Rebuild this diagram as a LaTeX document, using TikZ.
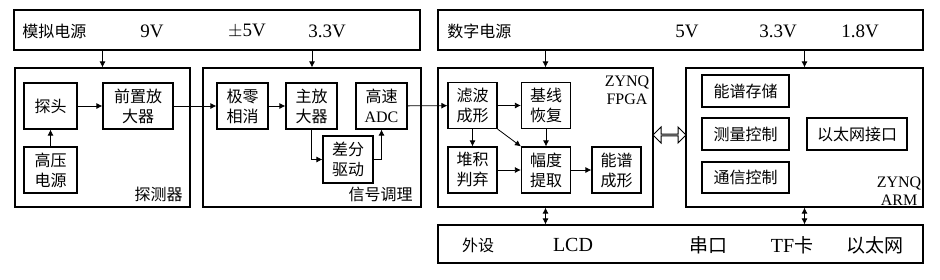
\documentclass[tikz,border=0pt]{standalone}
\usepackage{fontspec}
\setmainfont{Liberation Serif}
\newfontfamily\cjk{Noto Sans CJK SC}
\usetikzlibrary{positioning,arrows.meta,shapes.arrows}
\tikzset{
  blk/.style ={draw, rectangle, align=center, inner sep=0pt, line width=0.6pt, font=\cjk\fontsize{8}{10}\selectfont},
  sq/.style  ={blk, minimum width=24.5pt, minimum height=23pt},
  wd/.style  ={blk, minimum width=43.5pt, minimum height=16pt},
  grp/.style ={draw, rectangle, line width=0.6pt, minimum height=69.5pt},
  pwr/.style ={draw, rectangle, line width=0.6pt, minimum height=20pt},
  txt/.style ={font=\cjk\fontsize{8}{10}\selectfont, inner sep=0pt},
  volt/.style={font=\fontsize{9.5}{11}\selectfont, inner sep=0pt},
  arr/.style ={-{Latex[length=3pt,width=3pt]}, line width=0.4pt},
  darr/.style={{Latex[length=3pt,width=3pt]}-{Latex[length=3pt,width=3pt]}, line width=0.4pt},
}
\begin{document}
\begin{tikzpicture}[x=0.5pt, y=-0.5pt]
  \useasboundingbox (0,0) rectangle (940,279);

  % Power supplies
  \node[pwr, minimum width=203pt]   (apwr) at (217,30)   {};
  \node[pwr, minimum width=242.5pt] (dpwr) at (680.5,30) {};
  \node[txt, anchor=west] (apwrt) at (22,31)  {模拟电源};
  \node[volt] (v9)   at (152,31) {9V};
  \node[volt] (v5)   at (247,31) {$\pm$5V};
  \node[volt] (v33a) at (327,31) {3.3V};
  \node[txt, anchor=west] (dpwrt) at (447,31) {数字电源};
  \node[volt] (v5d)  at (687,31) {5V};
  \node[volt] (v33d) at (778,31) {3.3V};
  \node[volt] (v18)  at (860,31) {1.8V};

  % Group boxes
  \node[grp, minimum width=87.5pt]  (det)  at (102.5,137.5) {};
  \node[grp, minimum width=109pt]   (sig)  at (312,137.5)   {};
  \node[grp, minimum width=107.5pt] (fpga) at (545.5,137.5) {};
  \node[grp, minimum width=118.5pt] (arm)  at (804.5,137.5) {};
  \node[txt, anchor=south east] (dett) at (183,202) {探测器};
  \node[txt, anchor=south east] (sigt) at (413,202) {信号调理};
  \node[volt, align=center, font=\fontsize{8}{9}\selectfont] (fpgat) at (627,90)  {ZYNQ\\FPGA};
  \node[volt, align=center, font=\fontsize{8}{9}\selectfont] (armt)  at (899,191) {ZYNQ\\ARM};

  % Detector
  \node[sq, minimum width=26.5pt] (probe) at (50.5,106) {探头};
  \node[sq, minimum width=35pt]   (pre)   at (138,106)  {前置放\\大器};
  \node[sq, minimum width=26.5pt] (hv)    at (50.5,170) {高压\\电源};

  % Signal conditioning
  \node[sq, minimum width=25.5pt] (pz)   at (242.5,106) {极零\\相消};
  \node[sq, minimum width=25.5pt] (mamp) at (311.5,106) {主放\\大器};
  \node[sq, minimum width=25.5pt] (adc)  at (381.5,106) {高速\\\rmfamily ADC};
  \node[sq, minimum width=25pt, minimum height=23.5pt] (diff) at (348,159.5) {差分\\驱动};

  % FPGA
  \node[sq] (filt) at (472.5,105.5) {滤波\\成形};
  \node[sq] (base) at (546,105.5)   {基线\\恢复};
  \node[sq] (pile) at (472.5,170)   {堆积\\判弃};
  \node[sq] (ampx) at (546,170)     {幅度\\提取};
  \node[sq] (spec) at (616.5,170)   {能谱\\成形};

  % ARM
  \node[wd] (store) at (745.5,91)   {能谱存储};
  \node[wd] (meas)  at (745.5,134)  {测量控制};
  \node[wd, minimum width=50pt] (eth) at (857,134) {以太网接口};
  \node[wd, minimum height=15.5pt] (comm) at (745.5,177.5) {通信控制};

  % Peripherals
  \node[pwr, minimum width=242.5pt, minimum height=19pt] (periph) at (680.5,244) {};
  \node[txt] (pert) at (478,245) {外设};
  \node[volt, font=\fontsize{10}{12}\selectfont] (lcd) at (573,245) {LCD};
  \node[txt, font=\cjk\fontsize{9.5}{11}\selectfont] (uart) at (708,245) {串口};
  \node[volt, font=\fontsize{10}{12}\selectfont] (tf) at (792,245) {TF{\cjk\fontsize{9.5}{11}\selectfont 卡}};
  \node[txt, font=\cjk\fontsize{9.5}{11}\selectfont] (net) at (875,245) {以太网};

  % Power arrows
  \draw[arr] (apwr.south -| det.north) -- (det.north);
  \draw[arr] (apwr.south -| sig.north) -- (sig.north);
  \draw[arr] (dpwr.south -| fpga.north) -- (fpga.north);
  \draw[arr] (dpwr.south -| arm.north) -- (arm.north);

  % Signal chain
  \draw[arr] (hv) -- (probe);
  \draw[arr] (probe) -- (pre);
  \draw[arr] (pre) -- (pz);
  \draw[arr] (pz) -- (mamp);
  \draw[arr] (mamp.south) |- (diff.west);
  \draw[arr] (diff.east) -| (adc.south);
  \draw[arr] (adc) -- (filt);

  % FPGA internals
  \draw[arr] (filt) -- (base);
  \draw[arr] (filt) -- (pile);
  \draw[arr] (filt.south east) -- (ampx.north west);
  \draw[arr] (base) -- (ampx);
  \draw[arr] (pile) -- (ampx);
  \draw[arr] (ampx) -- (spec);

  % FPGA <-> ARM
  \node[double arrow, draw, fill=white, line width=0.5pt, inner sep=0pt,
        minimum height=16.5pt, minimum width=8pt, double arrow head extend=2pt] (link) at (669.5,135) {};

  % Peripheral links
  \draw[darr] (fpga.south) -- (fpga.south |- periph.north);
  \draw[darr] (arm.south) -- (arm.south |- periph.north);
\end{tikzpicture}
\end{document}
